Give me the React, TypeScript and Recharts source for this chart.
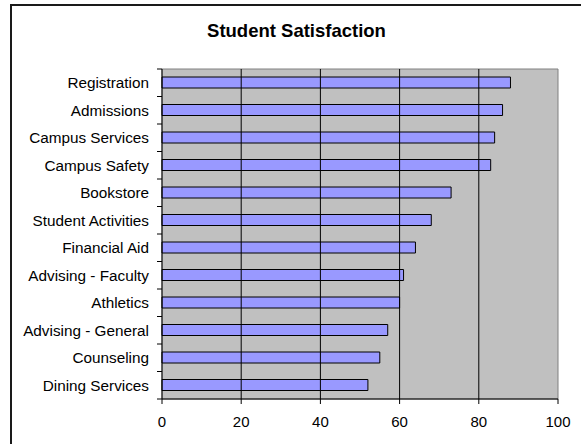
import React from "react";
import {
  BarChart,
  Bar,
  XAxis,
  YAxis,
  ReferenceArea,
  ReferenceLine,
} from "recharts";

const categories = [
  "Registration",
  "Admissions",
  "Campus Services",
  "Campus Safety",
  "Bookstore",
  "Student Activities",
  "Financial Aid",
  "Advising - Faculty",
  "Athletics",
  "Advising - General",
  "Counseling",
  "Dining Services",
];

const scores = [88, 86, 84, 83, 73, 68, 64, 61, 60, 57, 55, 52];

const xTicks = [0, 20, 40, 60, 80, 100];
const gridValues = [20, 40, 60, 80];

const data = categories.map((name, i) => ({ name, value: scores[i] }));

const W = 581;
const H = 444;
const MARGIN = { top: 69, right: 23, bottom: 0, left: 0 };
const X_AXIS_H = 45;
const Y_AXIS_W = 162;
const PLOT_H = H - MARGIN.top - MARGIN.bottom - X_AXIS_H;
const FONT = "'Liberation Sans', Arial, sans-serif";

function CategoryTick(props: any) {
  const { x, y, payload, index, visibleTicksCount } = props;
  const half =
    payload && typeof payload.offset === "number" && payload.offset > 0
      ? payload.offset
      : PLOT_H / categories.length / 2;
  const axisX = x + 13;
  const last = index === (visibleTicksCount ?? categories.length) - 1;
  return (
    <g>
      <line x1={axisX - 5} x2={axisX} y1={y - half} y2={y - half} stroke="#000" />
      {last && (
        <line x1={axisX - 5} x2={axisX} y1={y + half} y2={y + half} stroke="#000" />
      )}
      <text
        x={x}
        y={y}
        dy="0.355em"
        textAnchor="end"
        fill="#000"
        fontSize={15.3}
        fontFamily={FONT}
      >
        {payload.value}
      </text>
    </g>
  );
}

export default function App() {
  return (
    <div
      style={{
        position: "absolute",
        left: 0,
        top: 0,
        width: W,
        height: H,
        overflow: "hidden",
        background: "#fff",
        fontFamily: FONT,
      }}
    >
      <div
        style={{
          position: "absolute",
          left: 10,
          top: 4,
          width: 800,
          height: 700,
          border: "2px solid #1a1a1a",
        }}
      />
      <div
        style={{
          position: "absolute",
          left: 0,
          top: 21,
          width: 593,
          textAlign: "center",
          fontSize: 18.5,
          lineHeight: "20px",
          fontWeight: "bold",
          color: "#000",
        }}
      >
        Student Satisfaction
      </div>
      <div style={{ position: "absolute", left: 0, top: 0 }}>
        <BarChart width={W} height={H} data={data} layout="vertical" margin={MARGIN}>
          <ReferenceArea
            x1={0}
            x2={100}
            fill="#C0C0C0"
            fillOpacity={1}
            stroke="#808080"
            strokeWidth={1}
            ifOverflow="visible"
          />
          {gridValues.map((v) => (
            <ReferenceLine key={v} x={v} stroke="#000" strokeWidth={1} />
          ))}
          <XAxis
            type="number"
            domain={[0, 100]}
            ticks={xTicks}
            height={X_AXIS_H}
            axisLine={{ stroke: "#000" }}
            tickLine={{ stroke: "#000" }}
            tickSize={5}
            tickMargin={12}
            tick={{ fill: "#000", fontSize: 15, fontFamily: FONT }}
          />
          <YAxis
            type="category"
            dataKey="name"
            width={Y_AXIS_W}
            axisLine={{ stroke: "#000" }}
            tickLine={false}
            tickSize={0}
            tickMargin={13}
            interval={0}
            tick={<CategoryTick />}
          />
          <Bar
            dataKey="value"
            fill="#9999FF"
            stroke="#000"
            strokeWidth={1}
            barSize={11}
            isAnimationActive={false}
          />
        </BarChart>
      </div>
    </div>
  );
}
